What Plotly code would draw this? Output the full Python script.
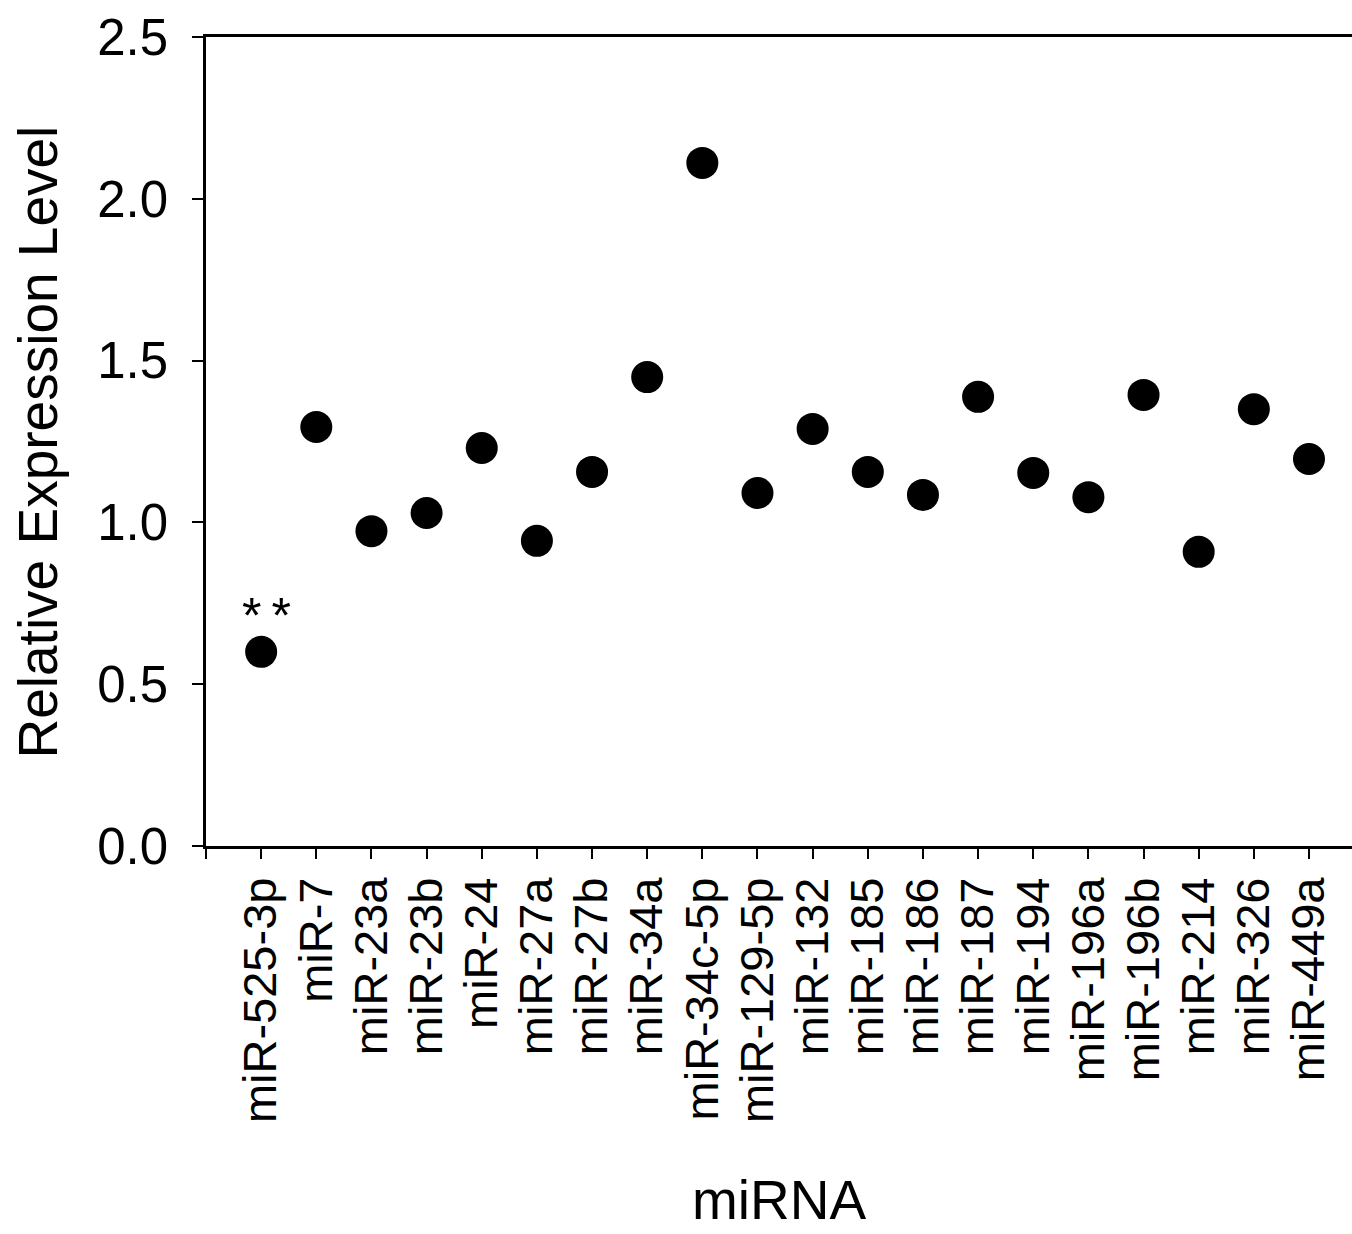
import plotly.graph_objects as go

categories = ["miR-525-3p", "miR-7", "miR-23a", "miR-23b", "miR-24", "miR-27a", "miR-27b",
              "miR-34a", "miR-34c-5p", "miR-129-5p", "miR-132", "miR-185", "miR-186", "miR-187",
              "miR-194", "miR-196a", "miR-196b", "miR-214", "miR-326", "miR-449a"]
values = [0.60, 1.295, 0.973, 1.029, 1.23, 0.943, 1.156, 1.449, 2.111, 1.091, 1.289, 1.156,
          1.085, 1.388, 1.153, 1.078, 1.394, 0.909, 1.350, 1.196]
y_ticks = [0.0, 0.5, 1.0, 1.5, 2.0, 2.5]
y_tick_labels = ["0.0", "0.5", "1.0", "1.5", "2.0", "2.5"]

idx = list(range(len(categories)))
font_family = "Liberation Sans, Arial, sans-serif"

fig = go.Figure()
fig.add_trace(go.Scatter(x=idx, y=values, mode="markers",
                         marker=dict(color="black", size=32, line=dict(width=0)),
                         showlegend=False, hoverinfo="skip"))

fig.add_annotation(x=0, y=values[0], text="*\u2009*", showarrow=False, yshift=36, xshift=5,
                   font=dict(family=font_family, size=50, color="black"))

fig.add_annotation(xref="paper", yref="paper", x=0.5, y=-0.478, text="miRNA", showarrow=False,
                   xanchor="center", yanchor="bottom",
                   font=dict(family=font_family, size=55, color="black"))
fig.add_annotation(xref="paper", yref="paper", x=-0.1466, y=0.5, text="Relative Expression Level",
                   showarrow=False, textangle=-90, xanchor="center", yanchor="middle",
                   font=dict(family=font_family, size=55, color="black"))

fig.update_layout(
    width=1352, height=1234,
    margin=dict(l=206, r=0, t=37, b=388),
    paper_bgcolor="white", plot_bgcolor="white",
    font=dict(family=font_family, color="black"),
    xaxis=dict(range=[-1, 19.78], tickvals=[-1] + idx, ticktext=[""] + categories,
               tickangle=-90, ticks="outside", ticklen=10, tickwidth=2, tickcolor="black",
               showline=True, linecolor="black", linewidth=2.5, mirror=True,
               showgrid=False, zeroline=False, tickfont=dict(size=47, family=font_family)),
    yaxis=dict(range=[0, 2.5], tickvals=y_ticks, ticktext=y_tick_labels,
               ticks="outside", ticklen=11, tickwidth=2, tickcolor="black",
               showline=True, linecolor="black", linewidth=2.5, ticklabelstandoff=14,
               showgrid=False, zeroline=False, tickfont=dict(size=51, family=font_family)),
)

fig.write_html("out.html", config={"displayModeBar": False},
               post_script="document.body.style.margin='0px';document.body.style.overflow='hidden';")
